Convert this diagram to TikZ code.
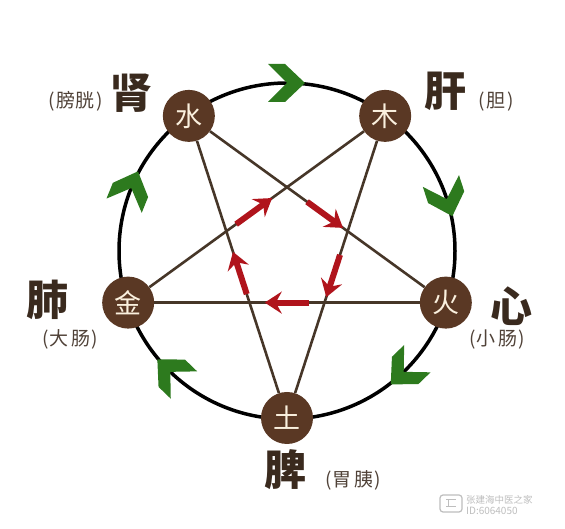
\documentclass[tikz,border=0pt]{standalone}
\usepackage{fontspec}
\newfontfamily\cjk{Noto Sans CJK SC}
\usetikzlibrary{arrows.meta}
\definecolor{nodebrown}{RGB}{90,56,36}
\definecolor{linebrown}{RGB}{70,54,40}
\definecolor{leafgreen}{RGB}{45,122,30}
\definecolor{kered}{RGB}{176,20,28}
\definecolor{labelbrown}{RGB}{58,42,30}
\definecolor{sublabel}{RGB}{80,66,56}
\definecolor{cream}{RGB}{250,240,222}
\definecolor{wm}{RGB}{190,190,190}
\begin{document}
\begin{tikzpicture}[x=1pt,y=1pt,
 element/.style={circle, fill=nodebrown, minimum size=52pt, inner sep=0pt, text=cream, font=\cjk\fontsize{27}{27}\selectfont},
 organ/.style={text=labelbrown, font=\cjk\bfseries\fontsize{42}{42}\selectfont, inner sep=0pt},
 sub/.style={text=sublabel, font=\cjk\fontsize{19}{19}\selectfont, inner sep=0pt},
 starline/.style={draw=linebrown, line width=2.6pt},
 ring/.style={draw=black, line width=3.5pt},
 redarrow/.style={draw=kered, line width=6pt, -{Stealth[length=17pt,width=22pt,inset=6pt]}},
 wmtext/.style={text=wm, inner sep=0pt, anchor=west},
 chev/.pic={\fill[leafgreen] (18,0) -- (-2,19) -- (-19,19) -- (0,0) -- (-19,-19) -- (-2,-19) -- cycle;}
]
\fill[white] (0,0) rectangle (565,529);
\useasboundingbox (0,0) rectangle (565,529);
\coordinate (O) at (287,278);
\draw[ring] (O) circle (168pt);

% green chevrons (generating cycle, clockwise)
\pic[rotate=0] at ([shift={(90:168pt)}]O) {chev};
\pic[rotate=-72] at ([shift={(18:168pt)}]O) {chev};
\pic[rotate=-136] at ([shift={(-46:168pt)}]O) {chev};
\pic[rotate=136] at ([shift={(-134:168pt)}]O) {chev};
\pic[rotate=68] at ([shift={(158:168pt)}]O) {chev};

% element nodes
\node[element] (shui) at ([shift={(126:167pt)}]O) {水};
\node[element] (mu)   at ([shift={(54:167pt)}]O) {木};
\node[element] (huo)  at ([shift={(-18:167pt)}]O) {火};
\node[element] (tu)   at ([shift={(-90:167pt)}]O) {土};
\node[element] (jin)  at ([shift={(198:167pt)}]O) {金};

% star
\draw[starline] (shui) -- (huo);
\draw[starline] (shui) -- (tu);
\draw[starline] (mu) -- (jin);
\draw[starline] (mu) -- (tu);
\draw[starline] (jin) -- (huo);

% red arrows (controlling cycle)
\path (jin.center) -- (mu.center) coordinate[pos=0.42] (r1a) coordinate[pos=0.56] (r1b);
\path (shui.center) -- (huo.center) coordinate[pos=0.46] (r2a) coordinate[pos=0.60] (r2b);
\path (mu.center) -- (tu.center) coordinate[pos=0.46] (r3a) coordinate[pos=0.60] (r3b);
\path (huo.center) -- (jin.center) coordinate[pos=0.43] (r4a) coordinate[pos=0.57] (r4b);
\path (tu.center) -- (shui.center) coordinate[pos=0.41] (r5a) coordinate[pos=0.55] (r5b);
\draw[redarrow] (r1a) -- (r1b);
\draw[redarrow] (r2a) -- (r2b);
\draw[redarrow] (r3a) -- (r3b);
\draw[redarrow] (r4a) -- (r4b);
\draw[redarrow] (r5a) -- (r5b);

% organ labels
\node[organ] (shen) at (131,436) {肾};
\node[sub] (pangguang) at (76,428) {(\kern2pt膀胱\kern2pt)};
\node[organ] (gan) at (445,438) {肝};
\node[sub] (dan) at (496,427) {(\kern2pt胆\kern2pt)};
\node[organ] (fei) at (48,229) {肺};
\node[sub] (dachang) at (70,190) {(\kern1pt大\kern3pt肠\kern1pt)};
\node[organ] (xin) at (511,223) {心};
\node[sub] (xiaochang) at (497,189) {(\kern1pt小\kern3pt肠\kern1pt)};
\node[organ] (pi) at (285,59) {脾};
\node[sub] (weiyi) at (353,49) {(\kern1pt胃\kern3pt胰\kern1pt)};

% watermark
\draw[wm, line width=1.2pt, rounded corners=3pt] (440,17) rectangle (462,34);
\draw[wm, line width=1pt] (446,29) -- (456,29) (446,22) -- (456,22) (448,29) -- (448,22);
\node[wmtext, font=\cjk\fontsize{9.5}{9.5}\selectfont] (wm1) at (466,29) {张建海中医之家};
\node[wmtext, font=\cjk\fontsize{10}{10}\selectfont] (wm2) at (466,18) {ID:6064050};
\end{tikzpicture}
\end{document}
